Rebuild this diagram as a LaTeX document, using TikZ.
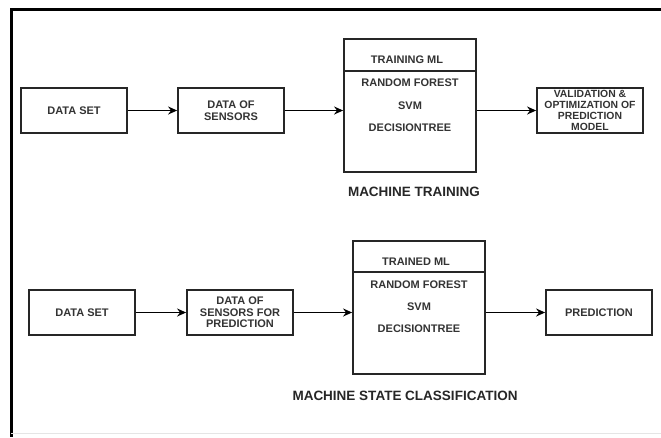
\documentclass[tikz,border=0pt]{standalone}
\usepackage{fontspec}
\setmainfont{Liberation Sans}
\usetikzlibrary{arrows.meta,positioning,calc}
\begin{document}
\begin{tikzpicture}[x=1pt,y=-1pt,
  box/.style={draw=black!85,line width=1.8pt,minimum width=106pt,minimum height=45pt,inner sep=1pt,align=center,font=\fontsize{11}{11.5}\selectfont\bfseries,text=black!80},
  mlbox/.style={draw=black!85,line width=1.8pt,minimum width=132pt,minimum height=133pt,inner sep=0pt},
  mltext/.style={font=\fontsize{11}{12}\selectfont\bfseries,text=black!80,inner sep=0pt},
  title/.style={font=\fontsize{13.5}{15}\selectfont\bfseries,text=black!85},
  arr/.style={draw=black,line width=1.6pt,-{Stealth[length=9pt,width=8pt]}},
  frame/.style={line width=3pt,black}]
\useasboundingbox (0,0) rectangle (661,437);
% frame
\coordinate (fTL) at (11,9);
\coordinate (fTR) at (661,9);
\coordinate (fBL) at (11,437);
\coordinate (gL) at (11,433);
\coordinate (gR) at (661,433);
\draw[frame] (fTR) -- (fTL) -- (fBL);
\draw[black!10,line width=1pt] (gL) -- (gR);
% top row
\node[box] (ds1) at (74,110.5) {DATA SET};
\node[box] (dos1) at (231,110.5) {DATA OF\\SENSORS};
\node[mlbox] (tr1) at (410,105.5) {};
\node[box,font=\fontsize{10.4}{10.8}\selectfont\bfseries] (val1) at (590,110.5) {VALIDATION \&\\OPTIMIZATION OF\\PREDICTION\\MODEL};
\coordinate (d1l) at ($(tr1.north west)+(0,33)$);
\coordinate (d1r) at ($(tr1.north east)+(0,33)$);
\draw[black!85,line width=1.8pt] (d1l) -- (d1r);
\node[mltext] (t1a) at (407,60) {TRAINING ML};
\node[mltext] (t1b) at (410,83) {RANDOM FOREST};
\node[mltext] (t1c) at (410,106) {SVM};
\node[mltext] (t1d) at (410,128) {DECISIONTREE};
\node[title] (mt) at (414,192) {MACHINE TRAINING};
\draw[arr] (ds1.east) -- (dos1.west);
\draw[arr] (dos1.east) -- (dos1.east -| tr1.west);
\draw[arr] (val1.west -| tr1.east) -- (val1.west);
% bottom row
\node[box] (ds2) at (82,312.5) {DATA SET};
\node[box] (dos2) at (240,312.5) {DATA OF\\SENSORS FOR\\PREDICTION};
\node[mlbox] (tr2) at (419,307.5) {};
\node[box] (pred) at (599,312.5) {PREDICTION};
\coordinate (d2l) at ($(tr2.north west)+(0,32)$);
\coordinate (d2r) at ($(tr2.north east)+(0,32)$);
\draw[black!85,line width=1.8pt] (d2l) -- (d2r);
\node[mltext] (t2a) at (416,262) {TRAINED ML};
\node[mltext] (t2b) at (419,285) {RANDOM FOREST};
\node[mltext] (t2c) at (419,307) {SVM};
\node[mltext] (t2d) at (419,329) {DECISIONTREE};
\node[title] (msc) at (405,396) {MACHINE STATE CLASSIFICATION};
\draw[arr] (ds2.east) -- (dos2.west);
\draw[arr] (dos2.east) -- (dos2.east -| tr2.west);
\draw[arr] (pred.west -| tr2.east) -- (pred.west);
\end{tikzpicture}
\end{document}
